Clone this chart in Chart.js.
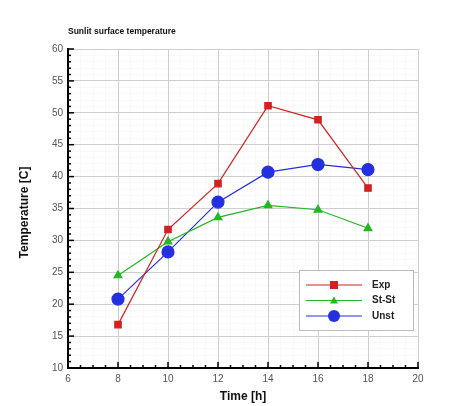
<!DOCTYPE html>
<html>
<head>
<meta charset="utf-8">
<script src="https://cdn.jsdelivr.net/npm/chart.js@4"></script>
<style>
  html, body { margin: 0; padding: 0; background: #fff; }
  #wrap { width: 460px; height: 406px; position: relative; }
</style>
</head>
<body>
<div id="wrap"><canvas id="c"></canvas></div>
<script>
/* ===== DATA ===== */
const TIMES = [8, 10, 12, 14, 16, 18];
const EXP   = [16.8, 31.7, 38.9, 51.1, 48.9, 38.2];
const STST  = [24.5, 29.8, 33.6, 35.5, 34.8, 31.9];
const UNST  = [20.8, 28.2, 36.0, 40.7, 41.9, 41.1];
const SERIES_LABELS = ['Exp', 'St-St', 'Unst'];
const X_RANGE = [6, 20];
const Y_RANGE = [10, 60];

const COLORS = ['#D42020', '#22B822', '#2430E0'];
const FONT = '"Liberation Sans", Arial, sans-serif';

const toXY = vals => TIMES.map((t, i) => ({ x: t, y: vals[i] }));

// Plugin: titles, inward ticks and the boxed legend
const decorations = {
  id: 'decorations',
  afterDraw(chart) {
    const { ctx, chartArea: a, scales } = chart;
    ctx.save();
    // inward tick marks
    ctx.strokeStyle = '#000';
    ctx.lineWidth = 1.5;
    scales.y.ticks.forEach(t => {
      const major = t.value % 5 === 0;
      const py = scales.y.getPixelForValue(t.value);
      ctx.beginPath(); ctx.moveTo(a.left, py); ctx.lineTo(a.left + (major ? 6 : 3), py); ctx.stroke();
    });
    scales.x.ticks.forEach(t => {
      const major = t.value % 2 === 0;
      const px = scales.x.getPixelForValue(t.value);
      ctx.beginPath(); ctx.moveTo(px, a.bottom); ctx.lineTo(px, a.bottom - (major ? 6 : 3)); ctx.stroke();
    });

    // titles
    ctx.fillStyle = '#111';
    ctx.font = 'bold 8.5px ' + FONT;
    ctx.textAlign = 'left'; ctx.textBaseline = 'middle';
    ctx.fillText('Sunlit surface temperature', a.left, 32);

    ctx.font = 'bold 12px ' + FONT;
    ctx.textAlign = 'center';
    ctx.fillText('Time [h]', (a.left + a.right) / 2, 397);
    ctx.save();
    ctx.translate(25, (a.top + a.bottom) / 2 + 4);
    ctx.rotate(-Math.PI / 2);
    ctx.fillText('Temperature [C]', 0, 0);
    ctx.restore();

    // legend box
    const bx = 299, by = 270, bw = 114, bh = 60;
    ctx.fillStyle = '#fff';
    ctx.fillRect(bx, by, bw, bh);
    ctx.strokeStyle = '#bbb'; ctx.lineWidth = 1;
    ctx.strokeRect(bx + 0.5, by + 0.5, bw, bh);
    chart.data.datasets.forEach((ds, i) => {
      const ly = by + 15 + i * 15.5;
      ctx.strokeStyle = ds.borderColor; ctx.lineWidth = 1.2;
      ctx.beginPath(); ctx.moveTo(bx + 7, ly); ctx.lineTo(bx + 63, ly); ctx.stroke();
      ctx.fillStyle = ds.backgroundColor;
      const mx = bx + 35;
      if (ds.pointStyle === 'rect') {
        ctx.fillRect(mx - 4, ly - 4, 8, 8);
      } else if (ds.pointStyle === 'triangle') {
        ctx.beginPath(); ctx.moveTo(mx, ly - 4); ctx.lineTo(mx + 4, ly + 3); ctx.lineTo(mx - 4, ly + 3); ctx.closePath(); ctx.fill();
      } else {
        ctx.beginPath(); ctx.arc(mx, ly, 6, 0, Math.PI * 2); ctx.fill();
      }
      ctx.fillStyle = '#222';
      ctx.font = 'bold 10px ' + FONT;
      ctx.textAlign = 'left';
      ctx.fillText(ds.label, bx + 73, ly);
    });
    ctx.restore();
  }
};

function series(label, vals, i, style, radius) {
  return {
    label, data: toXY(vals),
    borderColor: COLORS[i], backgroundColor: COLORS[i],
    borderWidth: 1.2, pointStyle: style, pointRadius: radius,
    pointHoverRadius: radius, tension: 0
  };
}

new Chart(document.getElementById('c'), {
  type: 'line',
  data: {
    datasets: [
      series(SERIES_LABELS[0], EXP, 0, 'rect', 4.5),
      series(SERIES_LABELS[1], STST, 1, 'triangle', 4.5),
      series(SERIES_LABELS[2], UNST, 2, 'circle', 6)
    ]
  },
  options: {
    responsive: true, maintainAspectRatio: false, animation: false,
    layout: { padding: { top: 49, right: 42, left: 0, bottom: 0 } },
    plugins: { legend: { display: false }, tooltip: { enabled: false } },
    scales: {
      x: {
        type: 'linear', min: X_RANGE[0], max: X_RANGE[1],
        afterFit: s => { s.height = 38; },
        border: { color: '#000', width: 2 },
        grid: {
          drawTicks: false,
          color: c => c.tick && c.tick.value % 2 === 0 ? '#cfcfcf' : 'rgba(0,0,0,0.025)'
        },
        ticks: {
          stepSize: 0.5, autoSkip: false, maxRotation: 0, padding: 5,
          color: '#555', font: { family: FONT, size: 10 },
          callback: v => (v % 2 === 0 ? v : '')
        }
      },
      y: {
        min: Y_RANGE[0], max: Y_RANGE[1],
        afterFit: s => { s.width = 68; },
        border: { color: '#000', width: 2 },
        grid: {
          drawTicks: false,
          color: c => c.tick && c.tick.value % 5 === 0 ? '#cfcfcf' : 'rgba(0,0,0,0.025)'
        },
        ticks: {
          stepSize: 1, maxTicksLimit: 100, autoSkip: false, padding: 5,
          color: '#555', font: { family: FONT, size: 10 },
          callback: v => (v % 5 === 0 ? v : '')
        }
      }
    }
  },
  plugins: [decorations]
});
</script>
</body>
</html>
